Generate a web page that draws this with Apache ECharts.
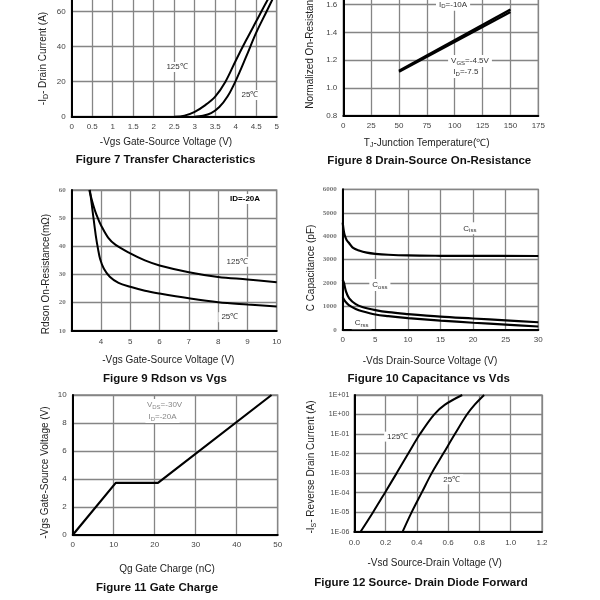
<!DOCTYPE html>
<html><head><meta charset="utf-8">
<script src="https://cdn.jsdelivr.net/npm/echarts@6/dist/echarts.min.js"></script>
<style>html,body{margin:0;padding:0;background:#fff}#c{width:600px;height:600px}</style>
</head><body><div id="c"></div>
<script>
// ---------- Data ----------
// Figure 7 Transfer Characteristics  [Vgs, Id]
const f7Ticks = [0,0.5,1,1.5,2,2.5,3,3.5,4,4.5,5];
const f7_125 = [[2.5,0],[2.75,0.6],[3.0,2.8],[3.25,6.5],[3.5,11.5],[3.75,20],[4.0,32],[4.25,43.5],[4.5,54.5],[4.75,65.5],[5.0,76]];
const f7_25  = [[3.0,0],[3.2,0.5],[3.4,2],[3.6,5.5],[3.8,11.5],[4.0,20.5],[4.25,34],[4.5,48],[4.75,60],[5.0,72]];
// Figure 8 Normalized On-Resistance [Tj, R]
const f8Upper = [[50,1.123],[150,1.566]];
const f8Lower = [[50,1.117],[150,1.548]];
// Figure 9 Rdson vs Vgs [Vgs, mOhm]
const f9_125 = [[3.6,60],[3.7,56],[3.8,52.5],[3.9,49.8],[4.0,47.5],[4.25,43],[4.5,40.5],[5,37.5],[5.5,35],[6,33.2],[7,30.8],[8,29.1],[9,28.2],[10,27.2]];
const f9_25  = [[3.62,60],[3.72,52],[3.82,44],[3.9,39],[3.97,35.5],[4.1,32],[4.3,29.2],[4.6,27],[5,25.6],[5.5,24.2],[6,23.2],[7,21.5],[8,20.1],[9,19.3],[10,18.6]];
// Figure 10 Capacitance vs Vds [Vds, pF]
const f10Ciss = [[0,4580],[0.15,4250],[0.3,4050],[0.6,3840],[1,3700],[1.6,3500],[2.5,3390],[3.7,3300],[5,3250],[7,3210],[10,3180],[15,3165],[20,3160],[30,3155]];
const f10Coss = [[0,2150],[0.2,2000],[0.5,1650],[1,1350],[2,1100],[3,980],[5,850],[7,760],[10,680],[15,570],[20,490],[25,410],[30,330]];
const f10Crss = [[0,1400],[0.2,1300],[0.5,1180],[1,1050],[2,900],[3,800],[5,660],[7,590],[10,510],[15,400],[20,310],[25,230],[30,150]];
// Figure 11 Gate Charge [Qg, Vgs]
const f11 = [[0,0],[10.5,3.72],[20.8,3.72],[48.5,10]];
// Figure 12 Source-Drain Diode Forward [Vsd, Is]
const f12_125 = [[0.04,1e-6],[0.12,1e-5],[0.196,1e-4],[0.271,1e-3],[0.345,1e-2],[0.42,1e-1],[0.51,1],[0.58,3.2],[0.69,10]];
const f12_25  = [[0.309,1e-6],[0.367,1e-5],[0.431,1e-4],[0.495,1e-3],[0.569,1e-2],[0.643,1e-1],[0.72,1],[0.77,3.2],[0.83,10]];

// Annotations [x, y, text]
const f7Notes  = [[2.57,28.4,'125℃'],[4.35,12.4,'25℃']];
const f8Notes  = [[98.5,1.6,'I{s|D}=-10A'],[113.7,1.195,'V{s|GS}=-4.5V'],[110,1.115,'I{s|D}=-7.5']];
const f9Notes  = [[8.92,56.8,'{b|ID=-20A}'],[8.65,34.5,'125℃'],[8.4,14.8,'25℃']];
const f10Notes = [[19.5,4337,'C{s|iss}'],[5.7,1919,'C{s|oss}'],[2.9,286,'C{s|rss}']];
const f11Notes = [[22.4,9.29,'V{s|DS}=-30V'],[21.9,8.43,'I{s|D}=-20A']];
const f12Notes = [[0.278,0.074,'125℃'],[0.623,4.8e-4,'25℃']];

// ---------- Layout ----------
const FONT = '"Liberation Sans", Arial, sans-serif';
const GRIDC = '#858585';
const grids = [
  {left:71.7, top:-23.3, width:205, height:140},
  {left:343.3, top:-23, width:195, height:138.7},
  {left:71.7, top:190, width:205, height:140.7},
  {left:342.7, top:189.3, width:195.6, height:140.7},
  {left:72.7, top:395, width:205, height:140},
  {left:354.3, top:395, width:187.7, height:136.7}
].map(g => Object.assign({show:true, borderColor:GRIDC, borderWidth:1.3, containLabel:false, outerBoundsMode:'none'}, g));

function baseAxis(gi, extra){
  return Object.assign({
    gridIndex: gi, type:'value',
    axisLine:{show:true, onZero:false, lineStyle:{color:'#000', width:2}},
    axisTick:{show:false},
    splitLine:{show:true, lineStyle:{color:GRIDC, width:1.3}},
    axisLabel:{color:'#444', fontSize:8, fontFamily:FONT, margin:6}
  }, extra);
}
const serifLbl = {color:'#777', fontSize:7, fontFamily:'"Liberation Serif", serif', fontWeight:'bold', margin:6, formatter:v=>String(v)};

const xAxis = [
  baseAxis(0,{min:0,max:5,interval:0.5}),
  baseAxis(1,{min:0,max:175,interval:25}),
  baseAxis(2,{min:3,max:10,interval:1, axisLabel:{color:'#444', fontSize:8, fontFamily:FONT, margin:7, formatter:v=> v===3?'':String(v)}}),
  baseAxis(3,{min:0,max:30,interval:5}),
  baseAxis(4,{min:0,max:50,interval:10}),
  baseAxis(5,{min:0,max:1.2,interval:0.2, axisLabel:{color:'#444', fontSize:8, fontFamily:FONT, margin:7, formatter:v=>v.toFixed(1)}})
];
const yAxis = [
  baseAxis(0,{min:0,max:80,interval:20}),
  baseAxis(1,{min:0.8,max:1.8,interval:0.2, axisLabel:{color:'#444', fontSize:8, fontFamily:FONT, margin:6, formatter:v=>v.toFixed(1)}}),
  baseAxis(2,{min:10,max:60,interval:10, axisLabel:serifLbl}),
  baseAxis(3,{min:0,max:6000,interval:1000, axisLabel:serifLbl}),
  baseAxis(4,{min:0,max:10,interval:2}),
  baseAxis(5,{type:'log', logBase:10, min:1e-6, max:10, splitNumber:7,
    axisLabel:{color:'#444', fontSize:7, fontFamily:FONT, margin:5, formatter:v=>{const e=Math.round(Math.log10(v)); return '1E'+(e>=0?'+':'-')+String(Math.abs(e)).padStart(2,'0');}}})
];

function curve(gi, data, w){
  return {type:'line', xAxisIndex:gi, yAxisIndex:gi, data:data, smooth:0.35, showSymbol:false, symbol:'none',
    lineStyle:{color:'#000', width:w||2}, z:3, silent:true};
}
function notes(gi, arr, color){
  const c = color || '#333';
  return {type:'scatter', xAxisIndex:gi, yAxisIndex:gi, symbolSize:1, itemStyle:{color:'rgba(255,255,255,0)'}, z:5, silent:true,
    data: arr.map(a=>({value:[a[0],a[1]], name:a[2]})),
    label:{show:true, position:'inside', formatter:'{b}', color:c, fontSize:8, fontFamily:FONT, opacity:1,
      backgroundColor:'#fff', padding:[1,3],
      rich:{s:{fontSize:6, color:c, fontFamily:FONT, padding:[4,0,0,0]}, b:{fontSize:8, fontWeight:'bold', color:'#000', fontFamily:FONT}}}};
}

const series = [
  curve(0,f7_125), curve(0,f7_25),
  Object.assign(curve(1,f8Upper,2.4),{smooth:false}), Object.assign(curve(1,f8Lower,2.4),{smooth:false}),
  curve(2,f9_125), curve(2,f9_25),
  curve(3,f10Ciss,2.2), curve(3,f10Coss,2.2), curve(3,f10Crss,2.2),
  Object.assign(curve(4,f11,2.2),{smooth:false}),
  curve(5,f12_125), curve(5,f12_25),
  notes(0,f7Notes), notes(1,f8Notes), notes(2,f9Notes), notes(3,f10Notes),
  notes(4,f11Notes,'#888'), notes(5,f12Notes)
];

// Titles (axis names & captions)
function txt(x,y,text,opt){
  return Object.assign({type:'text', x:x, y:y, z:10, silent:true,
    style:Object.assign({text:text, fill:'#222', fontSize:10, fontFamily:FONT, align:'center', verticalAlign:'middle',
      rich:{s:{fontSize:7, fill:'#222', fontFamily:FONT, padding:[5,0,0,0]}}}, opt&&opt.style||{})}, opt&&opt.rot?{rotation:Math.PI/2}:{});
}
const cap = {style:{fontSize:11.5, fontWeight:'bold', fill:'#111'}};
const graphic = [
  txt(166,142.7,'-Vgs Gate-Source Voltage (V)'), txt(165.5,160,'Figure 7 Transfer Characteristics',cap),
  txt(43.5,58.5,'-I{s|D}- Drain Current (A)',{rot:1}),
  txt(426.7,143,'T{s|J}-Junction Temperature(℃)'), txt(429.3,161,'Figure 8 Drain-Source On-Resistance',cap),
  txt(310,49,'Normalized On-Resistance',{rot:1}),
  txt(168.3,360,'-Vgs Gate-Source Voltage (V)'), txt(165,379.3,'Figure 9 Rdson vs Vgs',cap),
  txt(46,274,'Rdson On-Resistance(mΩ)',{rot:1}),
  txt(430,361.7,'-Vds Drain-Source Voltage (V)'), txt(428.7,379.3,'Figure 10 Capacitance vs Vds',cap),
  txt(311.7,268,'C Capacitance (pF)',{rot:1}),
  txt(167,569.3,'Qg Gate Charge (nC)'), txt(157,588.3,'Figure 11 Gate Charge',cap),
  txt(45,472.5,'-Vgs Gate-Source Voltage (V)',{rot:1}),
  txt(434.7,563.3,'-Vsd Source-Drain Voltage (V)'), txt(421,583.3,'Figure 12 Source- Drain Diode Forward',cap),
  txt(311.7,467,'-I{s|S}- Reverse Drain Current (A)',{rot:1})
];

const chart = echarts.init(document.getElementById('c'), null, {renderer:'canvas'});
chart.setOption({animation:false, backgroundColor:'#fff', grid:grids, xAxis:xAxis, yAxis:yAxis, series:series, graphic:graphic});
</script></body></html>
